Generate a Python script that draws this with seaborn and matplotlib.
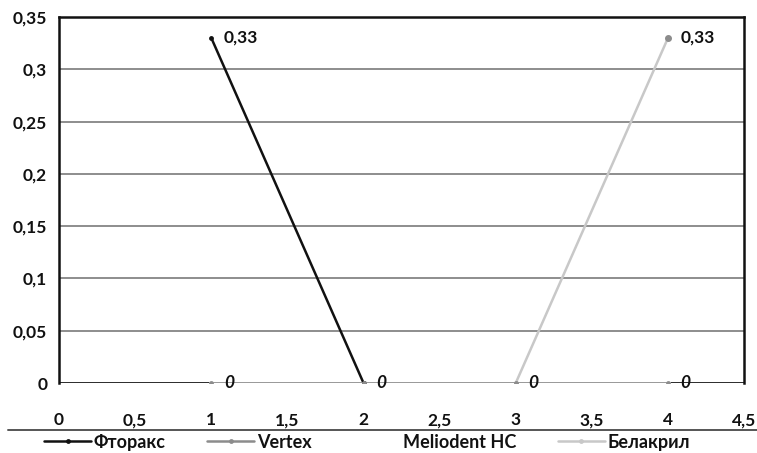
import matplotlib
matplotlib.use("Agg")
import matplotlib.pyplot as plt
from matplotlib.lines import Line2D
import seaborn as sns
import pandas as pd

# Series data
series_names = ["Фторакс", "Vertex", "Meliodent HC", "Белакрил"]
ftorax_x = [1, 2]
ftorax_y = [0.33, 0]
vertex_x = [1, 2, 3, 4]
vertex_y = [0, 0, 0, 0]
meliodent_x = [1, 2, 3, 4]
meliodent_y = [0, 0, 0, 0]
belakril_x = [3, 4]
belakril_y = [0, 0.33]

# Point labels: (x, y, text, italic)
point_labels = [
    (1, 0.33, "0,33", False),
    (4, 0.33, "0,33", False),
    (1, 0, "0", True),
    (2, 0, "0", True),
    (3, 0, "0", True),
    (4, 0, "0", True),
]

x_ticks = [0, 0.5, 1, 1.5, 2, 2.5, 3, 3.5, 4, 4.5]
x_tick_labels = ["0", "0,5", "1", "1,5", "2", "2,5", "3", "3,5", "4", "4,5"]
y_ticks = [0, 0.05, 0.1, 0.15, 0.2, 0.25, 0.3, 0.35]
y_tick_labels = ["0", "0,05", "0,1", "0,15", "0,2", "0,25", "0,3", "0,35"]

colors = {"Фторакс": "#111111", "Vertex": "#8c8c8c",
          "Meliodent HC": "#ffffff", "Белакрил": "#c8c8c8"}

frames = []
for name, xs, ys in [("Фторакс", ftorax_x, ftorax_y),
                     ("Vertex", vertex_x, vertex_y),
                     ("Meliodent HC", meliodent_x, meliodent_y),
                     ("Белакрил", belakril_x, belakril_y)]:
    frames.append(pd.DataFrame({"x": xs, "y": ys, "series": name}))
df = pd.concat(frames, ignore_index=True)

sns.set_theme(style="white")
plt.rcParams["font.family"] = ["Lato", "DejaVu Sans"]

fig = plt.figure(figsize=(7.57, 4.53), dpi=100)
ax = fig.add_axes([0.078, 0.1545, 0.905, 0.808])

ax.set_xlim(0, 4.5)
ax.set_ylim(0, 0.35)
ax.set_yticks(y_ticks)
ax.grid(axis="y", color="#7a7a7a", linewidth=1.2)
ax.set_axisbelow(True)

# Black x-axis baseline, drawn under the data lines
ax.axhline(0, color="#111111", linewidth=1.8, zorder=1)

draw_order = ["Meliodent HC", "Фторакс", "Белакрил", "Vertex"]
for name in draw_order:
    sub = df[df["series"] == name]
    sns.lineplot(data=sub, x="x", y="y", sort=False, ax=ax,
                 color=colors[name], linewidth=1.8, marker="o",
                 markersize=3.5, markeredgewidth=0, legend=False,
                 estimator=None, zorder=3)

# Marker colour at the top of the rising line
ax.plot([belakril_x[-1]], [belakril_y[-1]], "o", color="#8c8c8c",
        markersize=4, zorder=4)

for x, y, txt, it in point_labels:
    ax.annotate(txt, (x, y), xytext=(9, 0), textcoords="offset points",
                ha="left", va="center", fontsize=12.5, fontweight="bold",
                fontstyle="italic" if it else "normal", color="#111111",
                zorder=5)

ax.set_xticks(x_ticks)
ax.set_xticklabels(x_tick_labels)
ax.set_yticklabels(y_tick_labels)
ax.set_xlabel("")
ax.set_ylabel("")
ax.tick_params(axis="both", labelsize=12.5, colors="#111111",
               length=5, width=1, direction="out")
ax.tick_params(axis="x", pad=17, direction="inout", length=8)
for lbl in ax.get_xticklabels() + ax.get_yticklabels():
    lbl.set_fontweight("bold")

for side in ["left", "top", "right"]:
    ax.spines[side].set_visible(True)
    ax.spines[side].set_color("#111111")
    ax.spines[side].set_linewidth(1.8)
ax.spines["bottom"].set_visible(False)

# Separator above the legend
fig.add_artist(Line2D([0.011, 1.0], [0.051, 0.051], color="#555555",
                      linewidth=1.4, transform=fig.transFigure))

handles = [Line2D([0], [0], color=colors[n], linewidth=1.8, marker="o",
                  markersize=3.5, markeredgewidth=0) for n in series_names]
leg = fig.legend(handles, series_names, loc="center", ncol=4,
                 bbox_to_anchor=(0.485, 0.024), frameon=False,
                 prop={"size": 13, "weight": "bold"},
                 handlelength=2.6, handletextpad=0.15,
                 columnspacing=2.3)
for t in leg.get_texts():
    t.set_color("#111111")

fig.savefig("out.png", dpi=100, facecolor="white")
